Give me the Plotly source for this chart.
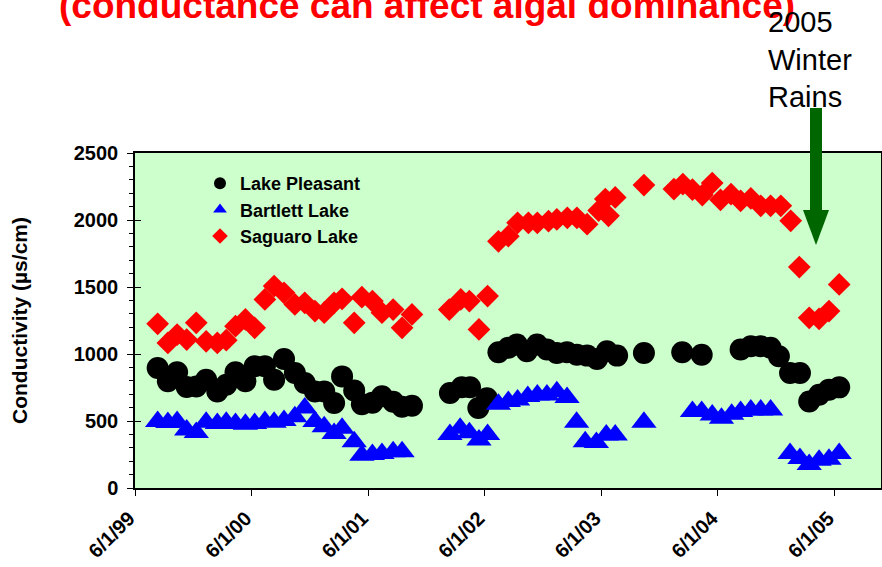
import plotly.graph_objects as go

# ---------------- data ----------------
lp_dates = ['1999-08-11','1999-09-12','1999-10-11','1999-11-10','1999-12-10','2000-01-10','2000-02-14',
            '2000-03-13','2000-04-11','2000-05-12','2000-06-10','2000-07-12','2000-08-10','2000-09-10',
            '2000-10-14','2000-11-14','2000-12-16','2001-01-14','2001-02-14','2001-03-11','2001-04-18',
            '2001-05-12','2001-06-14','2001-07-14','2001-08-18','2001-09-15','2001-10-16',
            '2002-02-12','2002-03-21','2002-04-16','2002-05-12','2002-06-08',
            '2002-07-14','2002-08-14','2002-09-10','2002-10-11','2002-11-12','2002-12-13','2003-01-13',
            '2003-02-14','2003-03-17','2003-04-18','2003-05-19','2003-06-19','2003-07-21',
            '2003-10-13','2004-02-10','2004-04-11',
            '2004-08-11','2004-09-12','2004-10-13','2004-11-13','2004-12-09','2005-01-13','2005-02-13',
            '2005-03-14','2005-04-14','2005-05-15','2005-06-16']
lp_vals = [896, 796, 863, 754, 758, 808, 721, 771, 863, 796, 908, 908, 808, 963, 858, 783, 721, 721,
           634, 833, 728, 625, 636, 685, 643, 606, 614,
           709, 752, 752, 597, 669,
           1013, 1046, 1070, 1020, 1070, 1033, 1008, 1013, 995, 988, 963, 1020, 988,
           1008, 1013, 995,
           1033, 1058, 1058, 1046, 983, 858, 858, 646, 696, 734, 751]

bl_dates = ['1999-08-11','1999-09-12','1999-10-11','1999-11-10','1999-12-10','2000-01-10','2000-02-14',
            '2000-03-13','2000-04-11','2000-05-12','2000-06-10','2000-07-12','2000-08-10','2000-09-10',
            '2000-10-14','2000-11-14','2000-12-16','2001-01-14','2001-02-14','2001-03-11','2001-04-18',
            '2001-05-12','2001-06-14','2001-07-14','2001-08-18','2001-09-15',
            '2002-02-12','2002-03-16','2002-04-14','2002-05-14','2002-06-10',
            '2002-07-14','2002-08-14','2002-09-12','2002-10-14','2002-11-13','2002-12-13','2003-01-13',
            '2003-02-14','2003-03-16','2003-04-12','2003-05-17','2003-06-17','2003-07-15',
            '2003-10-13',
            '2004-03-13','2004-04-11','2004-05-14','2004-06-12','2004-07-14','2004-08-11','2004-09-12',
            '2004-10-13','2004-11-13',
            '2005-01-13','2005-02-13','2005-03-14','2005-04-14','2005-05-15','2005-06-16']
bl_vals = [496, 488, 496, 432, 415, 490, 482, 490, 482, 475, 482, 496, 490, 503, 532, 597, 496, 458,
           407, 445, 345, 245, 250, 258, 270, 270,
           400, 445, 413, 358, 400,
           625, 645, 657, 682, 694, 694, 719, 675, 490, 345, 340, 395, 395,
           490,
           570, 570, 545, 520, 550, 570, 582, 582, 582,
           258, 220, 175, 208, 215, 258]

sl_dates = ['1999-08-11','1999-09-12','1999-10-11','1999-11-10','1999-12-10','2000-01-10','2000-02-14',
            '2000-03-13','2000-04-11','2000-05-12','2000-06-10','2000-07-12','2000-08-10','2000-09-10',
            '2000-10-14','2000-11-14','2000-12-16','2001-01-14','2001-02-14','2001-03-11','2001-04-18',
            '2001-05-12','2001-06-14','2001-07-14','2001-08-18','2001-09-15','2001-10-16',
            '2002-02-10','2002-03-18','2002-04-14','2002-05-14','2002-06-10',
            '2002-07-14','2002-08-14','2002-09-12','2002-10-16','2002-11-13','2002-12-18','2003-01-13',
            '2003-02-15','2003-03-17','2003-04-18','2003-05-24','2003-06-14','2003-06-24','2003-07-15',
            '2003-10-13',
            '2004-01-15','2004-02-12','2004-03-13','2004-04-13','2004-05-14','2004-06-09','2004-07-12',
            '2004-08-11','2004-09-12','2004-10-13','2004-11-13','2004-12-15',
            '2005-01-15','2005-02-11','2005-03-14','2005-04-14','2005-05-15','2005-06-16']
sl_vals = [1225, 1083, 1145, 1108, 1233, 1095, 1083, 1103, 1208, 1258, 1195, 1407, 1507, 1457, 1370,
           1382, 1320, 1308, 1382, 1412, 1233, 1424, 1395, 1308, 1332, 1195, 1295,
           1332, 1407, 1395, 1183, 1432,
           1841, 1879, 1979, 1979, 1979, 1991, 2004, 2016, 2016, 1969, 2070, 2156, 2031, 2168,
           2261,
           2231, 2268, 2226, 2186, 2276, 2151, 2193, 2143, 2161, 2106, 2106, 2106,
           1994, 1649, 1270, 1263, 1320, 1519]

tick_dates = ['1999-06-01','2000-06-01','2001-06-01','2002-06-01','2003-06-01','2004-06-01','2005-06-01']
tick_text = ['6/1/99','6/1/00','6/1/01','6/1/02','6/1/03','6/1/04','6/1/05']

FONT = 'Arial, Liberation Sans, sans-serif'

fig = go.Figure()
fig.add_trace(go.Scatter(x=lp_dates, y=lp_vals, mode='markers', name='Lake Pleasant',
                         legendgroup='a',
                         marker=dict(symbol='circle', size=22, color='black', line=dict(width=0))))
fig.add_trace(go.Scatter(x=bl_dates, y=bl_vals, mode='markers', name='Bartlett Lake',
                         legendgroup='b',
                         marker=dict(symbol='triangle-up', size=22, color='#0000FF', line=dict(width=0))))
fig.add_trace(go.Scatter(x=sl_dates, y=sl_vals, mode='markers', name='Saguaro Lake',
                         legendgroup='c',
                         marker=dict(symbol='diamond', size=17.5, color='#FF0000', line=dict(width=0))))
# dummy trace to host the inner-tick overlay axis
fig.add_trace(go.Scatter(x=[None], y=[None], yaxis='y2', showlegend=False, hoverinfo='skip'))

def px(xp):
    return (xp - 135) / 746.0

def py(yp):
    return (488 - yp) / 335.0

shapes = [
    dict(type='rect', xref='paper', yref='paper', x0=px(810), x1=px(822), y0=py(212), y1=py(108),
         fillcolor='#006600', line=dict(width=0)),
    dict(type='path', xref='paper', yref='paper',
         path='M %f %f L %f %f L %f %f Z' % (px(803), py(210), px(829), py(210), px(816), py(245)),
         fillcolor='#006600', line=dict(width=0)),
]

annotations = [
    dict(text='<b>(conductance can affect algal dominance)</b>', xref='paper', yref='paper',
         x=px(427), y=py(28), xanchor='center', yanchor='bottom', showarrow=False,
         font=dict(family=FONT, size=37, color='#FF0000')),
    dict(text='2005<br>Winter<br>Rains', xref='paper', yref='paper', align='left',
         x=px(766), y=py(4), xanchor='left', yanchor='top', showarrow=False,
         font=dict(family=FONT, size=29, color='black')),
]

fig.update_layout(
    width=882, height=567,
    margin=dict(l=135, r=1, t=153, b=79, autoexpand=False),
    paper_bgcolor='white', plot_bgcolor='#CCFFCC',
    font=dict(family=FONT, color='black'),
    showlegend=True,
    legend=dict(x=px(200), y=py(165), xanchor='left', yanchor='top',
                bgcolor='rgba(0,0,0,0)', font=dict(family=FONT, size=18, color='black', weight='bold'),
                itemsizing='constant', tracegroupgap=4, traceorder='normal'),
    xaxis=dict(type='date', range=['1999-06-01', '2005-10-25'],
               tickmode='array', tickvals=tick_dates, ticktext=tick_text,
               tickangle=-45, ticks='outside', ticklen=6, tickwidth=1, tickcolor='black',
               ticklabelstandoff=3, ticklabelshift=-6,
               tickfont=dict(family=FONT, size=20, color='black', weight='bold'),
               showgrid=False, zeroline=False, showline=True, linecolor='black', linewidth=1.5,
               mirror=True),
    yaxis=dict(range=[0, 2500], tickmode='linear', tick0=0, dtick=500,
               ticks='outside', ticklen=6, tickwidth=1, tickcolor='black',
               ticklabelstandoff=5,
               minor=dict(dtick=100, ticks='outside', ticklen=4, tickcolor='black', showgrid=False),
               tickfont=dict(family=FONT, size=20, color='black', weight='bold'),
               title=dict(text='Conductivity (µs/cm)',
                          font=dict(family=FONT, size=21, color='black', weight='bold'),
                          standoff=40),
               showgrid=False, zeroline=False, showline=True, linecolor='black', linewidth=1.5,
               mirror=True),
    yaxis2=dict(range=[0, 2500], overlaying='y', side='left', tickmode='linear', tick0=0, dtick=500,
                ticks='inside', ticklen=6, tickcolor='black', showticklabels=False,
                showgrid=False, zeroline=False, showline=False),
    shapes=shapes,
    annotations=annotations,
)

fig.write_html('out.html')
